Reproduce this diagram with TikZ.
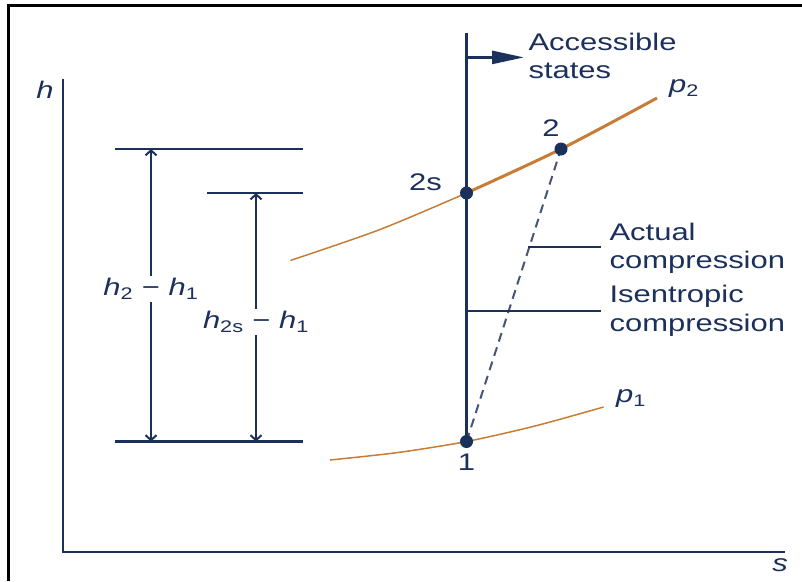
\documentclass[tikz,border=0pt]{standalone}
\usepackage{fontspec}
\setmainfont{Liberation Sans}
\usetikzlibrary{arrows.meta}
\definecolor{navy}{RGB}{28,48,92}
\definecolor{dashc}{RGB}{70,85,115}
\definecolor{curvec}{RGB}{200,125,55}
\begin{document}
\begin{tikzpicture}[x=1pt,y=-1pt,
  txt/.style={font=\fontsize{24}{28.5}\selectfont, text=navy, xscale=1.29, inner sep=1pt, align=left},
  ax/.style={draw=navy, line width=2.6pt},
  guide/.style={draw=navy, line width=2.2pt},
  dimarrow/.style={draw=navy, line width=2pt, {Straight Barb[length=5pt,width=11pt]}-{Straight Barb[length=5pt,width=11pt]}},
  dot/.style={circle, fill=navy, inner sep=0pt, minimum size=13pt},
  thincurve/.style={draw=curvec, line width=1.5pt},
  thickcurve/.style={draw=curvec, line width=3pt},
  leader/.style={draw=navy, line width=2pt},
  dimlab/.style={txt, fill=white, inner sep=2pt}
]
\useasboundingbox (0,0) rectangle (802,581);
\draw[black, line width=3pt] (8,581) -- (8,5) -- (802,5);

% axes
\coordinate (hTop) at (63,78.5);
\coordinate (O) at (63,552);
\coordinate (sEnd) at (785,552);
\draw[ax] (hTop) -- (O) -- (sEnd);
\node[txt] (hlab) at (45,90) {\itshape h};
\node[txt] (slab) at (780,565) {\itshape s};

% state points
\coordinate (n1c) at (466.5,441.5);
\coordinate (n2sc) at (466.5,193);
\coordinate (n2c) at (561,149);

% pressure curves
\draw[thincurve] plot[smooth] coordinates {(290.5,260.4) (380,229.5) (n2sc)};
\draw[thickcurve] plot[smooth] coordinates {(n2sc) (561,149) (657,98)};
\draw[thincurve] plot[smooth] coordinates {(330,460) (398,452.5) (n1c) (535,426) (603.6,407)};
\node[txt] (p2lab) at (684,89) {\itshape p\textsubscript{\upshape 2}};
\node[txt] (p1lab) at (631,399) {\itshape p\textsubscript{\upshape 1}};

% isentrope and accessible states arrow
\coordinate (isTop) at (466.5,32.6);
\draw[ax] (isTop) -- (n1c);
\coordinate (arS) at (466.5,57.4);
\coordinate (arE) at (524,57.4);
\draw[navy, line width=2.6pt, -{Triangle[length=32pt,width=13pt]}] (arS) -- (arE);
\node[txt, anchor=west] (acc) at (527,56) {Accessible\\states};

% actual compression
\draw[draw=dashc, line width=2pt, dash pattern=on 9pt off 6pt] (n1c) -- (n2c);
\coordinate (actS) at (528,247);
\coordinate (actE) at (601,247);
\draw[leader] (actS) -- (actE);
\node[txt, anchor=west] (act) at (608,248.5) {Actual\\compression};
\coordinate (isS) at (466.5,311);
\coordinate (isE) at (601,311);
\draw[leader] (isS) -- (isE);
\node[txt, anchor=west] (isl) at (608,311) {Isentropic\\compression};

% dots and labels
\node[dot] (n1) at (n1c) {};
\node[dot] (n2s) at (n2sc) {};
\node[dot] (n2) at (n2c) {};
\node[txt] (l1) at (466.5,462) {1};
\node[txt] (l2s) at (425.5,182) {2s};
\node[txt] (l2) at (551,128) {2};

% enthalpy differences
\coordinate (t1) at (115,149); \coordinate (t2) at (303,149);
\coordinate (m1) at (207,193); \coordinate (m2) at (303,193);
\coordinate (b1) at (115,441.5); \coordinate (b2) at (303,441.5);
\draw[guide] (t1) -- (t2);
\draw[guide] (m1) -- (m2);
\draw[guide] (b1) -- (b2);
\coordinate (aT) at (151,149); \coordinate (aB) at (151,441.5);
\coordinate (bT) at (256,193); \coordinate (bB) at (256,441.5);
\draw[dimarrow] (aT) -- (aB);
\draw[dimarrow] (bT) -- (bB);
\node[dimlab] (d1) at (151,289) {\itshape h\textsubscript{\upshape 2}\upshape\ − \itshape h\textsubscript{\upshape 1}};
\node[dimlab] (d2) at (256,322) {\itshape h\textsubscript{\upshape 2s}\upshape\ − \itshape h\textsubscript{\upshape 1}};
\end{tikzpicture}
\end{document}
